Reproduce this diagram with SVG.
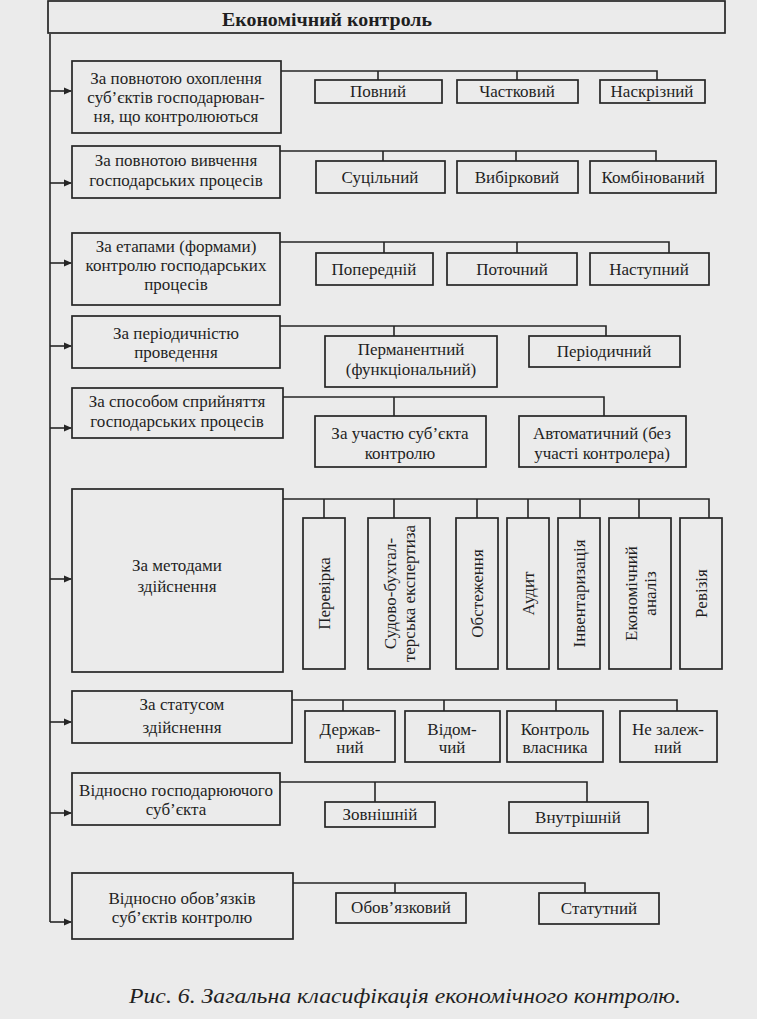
<svg xmlns="http://www.w3.org/2000/svg" width="757" height="1019" viewBox="0 0 757 1019">
<style>
.bg{fill:#ebebeb}
.b{fill:none;stroke:#262626;stroke-width:1.7}
.c{fill:none;stroke:#262626;stroke-width:1.6}
text{font-size:17px;fill:#1f1f1f;text-anchor:middle}
.t{font-size:19px;font-weight:bold}
.r{font-size:17px}
.cap{font-size:20px;font-style:italic;text-anchor:start}
</style>
<defs>
<marker id="ah" markerWidth="8" markerHeight="8" refX="7" refY="4" orient="auto" markerUnits="userSpaceOnUse">
<path d="M0,0.5 L8,4 L0,7.5 Z" fill="#262626"/>
</marker>
</defs>
<rect class="bg" x="0" y="0" width="757" height="1019"/>

<g id="connectors">
<path class="c" d="M50,34 V922"/>
<path class="c" d="M50,91 H71" marker-end="url(#ah)"/>
<path class="c" d="M50,183 H71" marker-end="url(#ah)"/>
<path class="c" d="M50,263 H71" marker-end="url(#ah)"/>
<path class="c" d="M50,346 H71" marker-end="url(#ah)"/>
<path class="c" d="M50,428 H71" marker-end="url(#ah)"/>
<path class="c" d="M50,579 H71" marker-end="url(#ah)"/>
<path class="c" d="M50,722 H71" marker-end="url(#ah)"/>
<path class="c" d="M50,813 H71" marker-end="url(#ah)"/>
<path class="c" d="M50,922 H71" marker-end="url(#ah)"/>
<path class="c" d="M281,71 H657 V80 M378,71 V80 M517,71 V80"/>
<path class="c" d="M280,151 H656 V161 M383,151 V161 M516,151 V161"/>
<path class="c" d="M280,242 H669 V253 M384,242 V253 M517,242 V253"/>
<path class="c" d="M280,326 H606 V336 M394,326 V336"/>
<path class="c" d="M283,397 H604 V416 M394,397 V416"/>
<path class="c" d="M283,499 H709 V518 M324,499 V518 M394,499 V518 M477,499 V518 M528,499 V518 M580,499 V518 M639,499 V518"/>
<path class="c" d="M292,700 H677 V711 M343,700 V711 M444,700 V711 M556,700 V711"/>
<path class="c" d="M280,782 H587 V802 M375,782 V802"/>
<path class="c" d="M293,883 H585 V893 M395,883 V893"/>
</g>

<g font-family="'Liberation Serif', 'Times New Roman', 'DejaVu Serif', serif">
<g id="root"><rect class="b" x="48" y="1" width="677" height="32"/><text class="t" x="327" y="26" textLength="210" lengthAdjust="spacingAndGlyphs">Економічний контроль</text></g>

<g id="n1"><rect class="b" x="72" y="61" width="209" height="72"/><text x="176" y="84">За повнотою охоплення</text><text x="176" y="103">суб’єктів господарюван-</text><text x="176" y="122">ня, що контролюються</text></g>
<g id="n1a"><rect class="b" x="315" y="80" width="127" height="23"/><text x="378" y="97">Повний</text></g>
<g id="n1b"><rect class="b" x="457" y="80" width="121" height="23"/><text x="517" y="97">Частковий</text></g>
<g id="n1c"><rect class="b" x="600" y="80" width="105" height="23"/><text x="652" y="97">Наскрізний</text></g>

<g id="n2"><rect class="b" x="72" y="146" width="208" height="52"/><text x="176" y="166">За повнотою вивчення</text><text x="176" y="186">господарських процесів</text></g>
<g id="n2a"><rect class="b" x="316" y="161" width="129" height="32"/><text x="380" y="183">Суцільний</text></g>
<g id="n2b"><rect class="b" x="457" y="161" width="121" height="32"/><text x="517" y="183">Вибірковий</text></g>
<g id="n2c"><rect class="b" x="590" y="161" width="126" height="32"/><text x="653" y="183">Комбінований</text></g>

<g id="n3"><rect class="b" x="72" y="233" width="208" height="72"/><text x="176" y="252">За етапами (формами)</text><text x="176" y="271">контролю господарських</text><text x="176" y="290">процесів</text></g>
<g id="n3a"><rect class="b" x="316" y="253" width="117" height="32"/><text x="374" y="275">Попередній</text></g>
<g id="n3b"><rect class="b" x="447" y="253" width="130" height="32"/><text x="512" y="275">Поточний</text></g>
<g id="n3c"><rect class="b" x="590" y="253" width="119" height="32"/><text x="649" y="275">Наступний</text></g>

<g id="n4"><rect class="b" x="72" y="316" width="208" height="52"/><text x="176" y="339">За періодичністю</text><text x="176" y="358">проведення</text></g>
<g id="n4a"><rect class="b" x="325" y="336" width="172" height="51"/><text x="411" y="355">Перманентний</text><text x="411" y="375">(функціональний)</text></g>
<g id="n4b"><rect class="b" x="529" y="336" width="151" height="31"/><text x="604" y="357">Періодичний</text></g>

<g id="n5"><rect class="b" x="72" y="388" width="211" height="50"/><text x="177" y="407">За способом сприйняття</text><text x="177" y="427">господарських процесів</text></g>
<g id="n5a"><rect class="b" x="315" y="416" width="171" height="51"/><text x="400" y="439">За участю суб’єкта</text><text x="400" y="459">контролю</text></g>
<g id="n5b"><rect class="b" x="519" y="416" width="167" height="51"/><text x="602" y="439">Автоматичний (без</text><text x="602" y="459">участі контролера)</text></g>

<g id="n6"><rect class="b" x="72" y="489" width="211" height="183"/><text x="177" y="571">За методами</text><text x="177" y="592">здійснення</text></g>
<g id="n6a"><rect class="b" x="303" y="518" width="42" height="151"/><text class="r" transform="translate(330,593.5) rotate(-90)">Перевірка</text></g>
<g id="n6b"><rect class="b" x="368" y="518" width="62" height="151"/><text class="r" transform="translate(396,593.5) rotate(-90)">Судово-бухгал-</text><text class="r" transform="translate(415,593.5) rotate(-90)">терська експертиза</text></g>
<g id="n6c"><rect class="b" x="456" y="518" width="42" height="151"/><text class="r" transform="translate(483,593.5) rotate(-90)">Обстеження</text></g>
<g id="n6d"><rect class="b" x="507" y="518" width="42" height="151"/><text class="r" transform="translate(534,593.5) rotate(-90)">Аудит</text></g>
<g id="n6e"><rect class="b" x="558" y="518" width="42" height="151"/><text class="r" transform="translate(585,593.5) rotate(-90)">Інвентаризація</text></g>
<g id="n6f"><rect class="b" x="609" y="518" width="62" height="151"/><text class="r" transform="translate(637,593.5) rotate(-90)">Економічний</text><text class="r" transform="translate(656,593.5) rotate(-90)">аналіз</text></g>
<g id="n6g"><rect class="b" x="680" y="518" width="42" height="151"/><text class="r" transform="translate(707,593.5) rotate(-90)">Ревізія</text></g>

<g id="n7"><rect class="b" x="72" y="691" width="220" height="52"/><text x="182" y="710">За статусом</text><text x="182" y="733">здійснення</text></g>
<g id="n7a"><rect class="b" x="305" y="711" width="90" height="51"/><text x="350" y="735">Держав-</text><text x="350" y="753">ний</text></g>
<g id="n7b"><rect class="b" x="405" y="711" width="95" height="51"/><text x="452" y="735">Відом-</text><text x="452" y="753">чий</text></g>
<g id="n7c"><rect class="b" x="507" y="711" width="96" height="51"/><text x="555" y="735">Контроль</text><text x="555" y="753">власника</text></g>
<g id="n7d"><rect class="b" x="620" y="711" width="97" height="51"/><text x="668" y="735">Не залеж-</text><text x="668" y="753">ний</text></g>

<g id="n8"><rect class="b" x="72" y="773" width="208" height="52"/><text x="176" y="796">Відносно господарюючого</text><text x="176" y="815">суб’єкта</text></g>
<g id="n8a"><rect class="b" x="325" y="802" width="110" height="25"/><text x="380" y="820">Зовнішній</text></g>
<g id="n8b"><rect class="b" x="509" y="802" width="139" height="31"/><text x="578" y="823">Внутрішній</text></g>

<g id="n9"><rect class="b" x="72" y="873" width="221" height="66"/><text x="182" y="904">Відносно обов’язків</text><text x="182" y="923">суб’єктів контролю</text></g>
<g id="n9a"><rect class="b" x="336" y="893" width="130" height="30"/><text x="401" y="913">Обов’язковий</text></g>
<g id="n9b"><rect class="b" x="539" y="893" width="120" height="31"/><text x="599" y="914">Статутний</text></g>

<text class="cap" x="129" y="1003" textLength="552" lengthAdjust="spacingAndGlyphs">Рис. 6. Загальна класифікація економічного контролю.</text>
</g>
</svg>
